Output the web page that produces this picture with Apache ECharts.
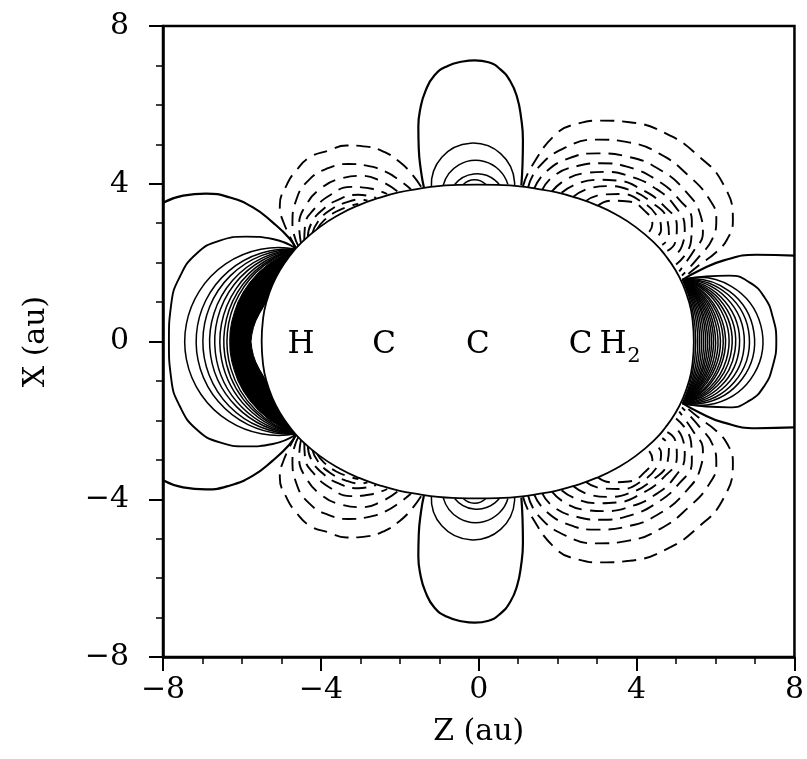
<!DOCTYPE html>
<html>
<head>
<meta charset="utf-8">
<script src="https://cdn.jsdelivr.net/npm/echarts@6/dist/echarts.min.js"></script>
<style>
  html, body { margin: 0; padding: 0; background: #fff; }
  #chart { width: 807px; height: 759px; }
</style>
</head>
<body>
<div id="chart"></div>
<script>
// contour map, symmetric about X = 0: upper halves are listed, lower halves mirrored
const ellipseUpper = [[-5.5,0],[-5.46,0.61],[-5.38,1.0],[-5.23,1.43],[-5.03,1.82],[-4.78,2.18],[-4.53,2.47],[-4.03,2.9],[-3.53,3.22],[-3.03,3.46],[-2.53,3.64],[-2.03,3.78],[-1.53,3.87],[-1.03,3.94],[-0.53,3.97],[-0.03,3.98],[0.48,3.97],[0.98,3.94],[1.48,3.87],[1.98,3.78],[2.48,3.64],[2.98,3.46],[3.48,3.22],[3.98,2.9],[4.48,2.47],[4.73,2.18],[4.98,1.82],[5.18,1.43],[5.33,1.0],[5.41,0.61],[5.45,0]]

// solid contours, left end
const leftOuter = [[-8,3.52],[-7.49,3.70],[-6.91,3.75],[-6.3,3.65],[-5.72,3.40],[-5.22,3.02],[-4.8,2.62],[-4.63,2.36]]
const leftLoop = [[-4.63,2.36],[-5.22,2.60],[-5.89,2.66],[-6.56,2.56],[-7.16,2.22],[-7.58,1.63],[-7.79,0.96],[-7.85,0]]
const leftFoot = [-4.63, 2.34]
const leftApex = [-7.45,-7.16,-6.99,-6.82,-6.69,-6.56,-6.46,-6.38]
const leftBlackOuter = [[-4.63,2.34],[-4.96,2.2],[-5.29,2.0],[-5.58,1.75],[-5.8,1.5],[-5.97,1.25],[-6.1,1.0],[-6.19,0.75],[-6.26,0.5],[-6.3,0.25],[-6.31,0]]
const leftBlackInner = [[-4.63,2.34],[-4.78,2.08],[-4.92,1.85],[-5.04,1.65],[-5.15,1.45],[-5.26,1.25],[-5.36,1.05],[-5.46,0.87],[-5.56,0.7],[-5.65,0.52],[-5.71,0.35],[-5.75,0.17],[-5.77,0]]

// solid contours, right end
const rightOuter = [[8,2.18],[7.03,2.2],[6.19,2.05],[5.59,1.80],[5.17,1.57]]
const rightLoop = [[5.17,1.57],[5.76,1.65],[6.35,1.67],[6.86,1.5],[7.24,1.12],[7.45,0.62],[7.54,0]]
const rightFoot = [5.17, 1.57]
const rightApex = [7.2,6.99,6.86,6.73,6.61,6.51,6.42,6.34,6.25,6.19,6.12,6.06,6.0,5.95,5.9,5.85,5.8,5.75,5.7,5.65,5.6,5.55,5.5]

// solid lobe above the middle C
const topOuter = [[-1.39,3.91],[-1.46,4.3],[-1.52,4.9],[-1.53,5.45],[-1.48,5.9],[-1.35,6.35],[-1.12,6.75],[-0.8,6.98],[-0.4,7.1],[-0.1,7.13],[0.25,7.08],[0.55,6.9],[0.8,6.6],[0.97,6.2],[1.07,5.7],[1.12,5.1],[1.11,4.5],[1.08,3.96]]
const topArcs = [
  [-1.2,3.91,-0.14,5.03,0.91,3.96],
  [-0.9,3.96,-0.14,4.59,0.74,3.98],
  [-0.61,3.98,-0.1,4.25,0.53,3.97],
  [-0.39,3.98,-0.1,4.1,0.19,3.97]
]

// dashed contours, upper left
const dashLeft = [
  [[-4.62,2.35],[-4.95,3.03],[-5.04,3.45],[-4.87,3.96],[-4.62,4.34],[-4.28,4.67],[-3.81,4.84],[-3.35,4.97],[-2.84,4.94],[-2.38,4.8],[-2.0,4.55],[-1.7,4.25],[-1.45,3.91]],
  [[-4.56,2.4],[-4.72,2.98],[-4.62,3.6],[-4.3,4.1],[-3.8,4.4],[-3.3,4.5],[-2.84,4.46],[-2.35,4.3],[-2.0,4.08],[-1.72,3.86]],
  [[-4.5,2.47],[-4.55,2.95],[-4.38,3.45],[-4.0,3.88],[-3.5,4.13],[-2.95,4.2],[-2.45,4.05],[-2.05,3.8]],
  [[-4.42,2.55],[-4.4,2.95],[-4.15,3.38],[-3.75,3.72],[-3.25,3.92],[-2.75,3.88],[-2.32,3.74]],
  [[-4.33,2.64],[-4.25,2.98],[-3.98,3.32],[-3.55,3.6],[-3.05,3.72],[-2.6,3.64]],
  [[-4.22,2.73],[-4.08,3.03],[-3.78,3.32],[-3.38,3.52],[-2.98,3.6],[-2.82,3.57]],
  [[-4.1,2.84],[-3.92,3.07],[-3.62,3.29],[-3.28,3.43],[-3.05,3.49]]
]

// dashed contours, upper right
const dashRight = [
  [[1.12,3.93],[1.33,4.42],[1.97,5.27],[2.5,5.52],[3.1,5.6],[3.82,5.56],[4.75,5.27],[5.55,4.72],[6.19,4.0],[6.44,3.07],[6.3,2.6],[6.0,2.25],[5.6,1.95],[5.2,1.62]],
  [[1.25,3.9],[1.5,4.4],[2.2,4.92],[3.0,5.12],[3.8,5.05],[4.6,4.75],[5.3,4.22],[5.85,3.6],[6.02,3.1],[5.92,2.6],[5.6,2.17],[5.15,1.67]],
  [[1.4,3.87],[1.7,4.3],[2.3,4.65],[3.0,4.77],[3.8,4.68],[4.6,4.35],[5.25,3.8],[5.62,3.2],[5.68,2.75],[5.45,2.3],[5.08,1.78]],
  [[1.6,3.83],[1.9,4.2],[2.5,4.45],[3.1,4.52],[3.8,4.42],[4.5,4.1],[5.08,3.6],[5.4,3.05],[5.38,2.55],[5.0,1.95]],
  [[1.85,3.8],[2.2,4.1],[2.7,4.27],[3.2,4.3],[3.8,4.2],[4.45,3.9],[4.98,3.42],[5.22,2.88],[5.15,2.42],[4.9,2.12]],
  [[2.1,3.77],[2.45,3.98],[3.0,4.1],[3.5,4.08],[4.1,3.87],[4.68,3.45],[5.02,2.92],[4.98,2.52],[4.78,2.3]],
  [[2.4,3.67],[2.8,3.88],[3.3,3.94],[3.8,3.85],[4.35,3.55],[4.78,3.07],[4.82,2.68],[4.65,2.45]],
  [[2.7,3.55],[3.1,3.72],[3.6,3.74],[4.1,3.56],[4.52,3.18],[4.62,2.82],[4.48,2.62]],
  [[3.0,3.43],[3.35,3.57],[3.8,3.55],[4.22,3.3],[4.4,2.98],[4.32,2.78]]
]

const atoms = [['H',-4.5,-0.08],['C',-2.4,-0.08],['C',-0.02,-0.08],['C',2.58,-0.08],['H',3.4,-0.08]]
const subscript = ['2', 3.93, -0.38]

const FONT = 'DejaVu Serif'

const mirror = pts => pts.map(([z, x]) => [z, -x])
const closeMirror = pts => pts.concat(mirror(pts).reverse().slice(1))

function solid(data, w) {
  return { type: 'line', data, smooth: true, symbol: 'none', silent: true, z: 2,
    lineStyle: { color: '#000', width: w || 1.7 } }
}
function dashed(data) {
  return { type: 'line', data, smooth: true, symbol: 'none', silent: true, z: 2,
    lineStyle: { color: '#000', width: 1.9, type: [14, 8] } }
}

// circle arc through three data points
function renderArc(params, api) {
  const a = api.coord([api.value(0), api.value(1)])
  const b = api.coord([api.value(2), api.value(3)])
  const c = api.coord([api.value(4), api.value(5)])
  const d = 2 * (a[0] * (b[1] - c[1]) + b[0] * (c[1] - a[1]) + c[0] * (a[1] - b[1]))
  const sa = a[0] * a[0] + a[1] * a[1], sb = b[0] * b[0] + b[1] * b[1], sc = c[0] * c[0] + c[1] * c[1]
  const ux = (sa * (b[1] - c[1]) + sb * (c[1] - a[1]) + sc * (a[1] - b[1])) / d
  const uy = (sa * (c[0] - b[0]) + sb * (a[0] - c[0]) + sc * (b[0] - a[0])) / d
  const r = Math.hypot(a[0] - ux, a[1] - uy)
  const a1 = Math.atan2(a[1] - uy, a[0] - ux)
  const a2 = Math.atan2(b[1] - uy, b[0] - ux)
  const a3 = Math.atan2(c[1] - uy, c[0] - ux)
  const T = Math.PI * 2
  const norm = v => ((v % T) + T) % T
  const cw = norm(a2 - a1) < norm(a3 - a1)
  return {
    type: 'arc',
    shape: { cx: ux, cy: uy, r, startAngle: a1, endAngle: a3, clockwise: cw },
    style: { stroke: '#000', fill: 'none', lineWidth: 1.5 }
  }
}

const arcData = []
leftApex.forEach(z => arcData.push([leftFoot[0], leftFoot[1], z, 0, leftFoot[0], -leftFoot[1]]))
rightApex.forEach(z => arcData.push([rightFoot[0], rightFoot[1], z, 0, rightFoot[0], -rightFoot[1]]))
topArcs.forEach(t => {
  arcData.push(t)
  arcData.push([t[0], -t[1], t[2], -t[3], t[4], -t[5]])
})

const series = [
  solid(leftOuter, 2.2), solid(mirror(leftOuter), 2.2), solid(closeMirror(leftLoop), 1.9),
  solid(rightOuter, 2.2), solid(mirror(rightOuter), 2.2), solid(closeMirror(rightLoop), 1.9),
  solid(topOuter, 2.2), solid(mirror(topOuter), 2.2)
]
dashLeft.concat(dashRight).forEach(d => {
  series.push(dashed(d))
  series.push(dashed(mirror(d)))
})
series.push({
  type: 'custom', silent: true, z: 3, data: arcData, renderItem: renderArc
})
// dense dark band next to the H end
series.push({
  type: 'custom', silent: true, z: 3, data: [[0, 0]],
  renderItem: (params, api) => ({
    type: 'polygon',
    shape: { points: closeMirror(leftBlackOuter).concat(closeMirror(leftBlackInner).reverse()).map(p => api.coord(p)) },
    style: { fill: '#000', stroke: '#000', lineWidth: 1 }
  })
})
// molecular boundary, white inside
series.push({
  type: 'custom', silent: true, z: 5, data: [[0, 0]],
  renderItem: (params, api) => ({
    type: 'polygon',
    shape: { points: closeMirror(ellipseUpper).slice(0, -1).map(p => api.coord(p)), smooth: 0.5 },
    style: { fill: '#fff', stroke: '#000', lineWidth: 1.8 }
  })
})
series.push({
  type: 'scatter', silent: true, z: 6, symbolSize: 0,
  itemStyle: { opacity: 1 },
  data: atoms.map(a => ({ value: [a[1], a[2]], name: a[0] }))
    .concat([{ value: [subscript[1], subscript[2]], name: subscript[0], label: { fontSize: 21 } }]),
  label: { show: true, position: 'inside', formatter: p => p.name, color: '#000', opacity: 1, fontFamily: FONT, fontSize: 31 }
})

const tickFmt = v => (v < 0 ? '\u2212' + Math.abs(v) : String(v))

function axis(name, gap, margin) {
  return {
    type: 'value', min: -8, max: 8, interval: 4,
    name, nameLocation: 'middle', nameGap: gap,
    nameTextStyle: { fontFamily: FONT, fontSize: 30, color: '#000' },
    axisLine: { show: true, onZero: false, lineStyle: { color: '#000', width: 2.5 } },
    axisTick: { show: true, length: 14, lineStyle: { color: '#000', width: 2 } },
    minorTick: { show: true, splitNumber: 4, length: 7, lineStyle: { color: '#000', width: 1.5 } },
    splitLine: { show: false },
    minorSplitLine: { show: false },
    axisLabel: { fontFamily: FONT, fontSize: 30, color: '#000', margin, formatter: tickFmt }
  }
}

const chart = echarts.init(document.getElementById('chart'))
chart.setOption({
  animation: false,
  backgroundColor: '#fff',
  grid: { left: 163, right: 12, top: 26, bottom: 102, show: true, borderColor: '#000', borderWidth: 2.5 },
  xAxis: axis('Z (au)', 60, 18),
  yAxis: axis('X (au)', 112, 34),
  series
})
</script>
</body>
</html>
